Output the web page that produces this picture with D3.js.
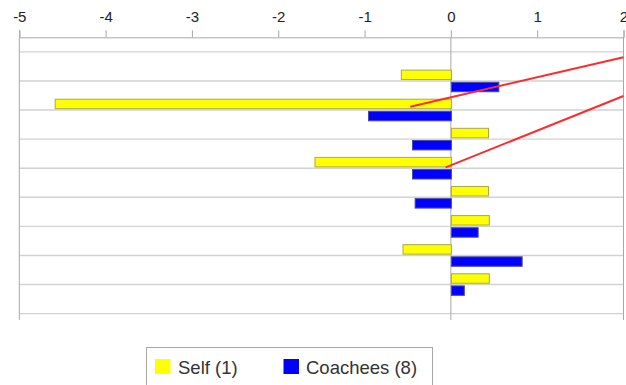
<!DOCTYPE html>
<html>
<head>
<meta charset="utf-8">
<script src="https://cdn.jsdelivr.net/npm/d3@7/dist/d3.min.js"></script>
<style>
  html, body { margin: 0; padding: 0; background: #fff; }
  svg { display: block; }
</style>
</head>
<body>
<svg id="chart" width="626" height="385"></svg>
<script>
// ---- data ----
const categories = ["Item 1", "Item 2", "Item 3", "Item 4", "Item 5", "Item 6", "Item 7", "Item 8"];
const selfValues = [-0.58, -4.59, 0.43, -1.58, 0.43, 0.44, -0.56, 0.44];
const coacheeValues = [0.55, -0.96, -0.45, -0.45, -0.42, 0.31, 0.82, 0.15];
const seriesNames = ["Self (1)", "Coachees (8)"];
const xTicks = [-5, -4, -3, -2, -1, 0, 1, 2];
const xTickLabels = ["-5", "-4", "-3", "-2", "-1", "0", "1", "2"];
// annotation lines in data units: x value, category position (slot index)
const annotations = [
  { x1: -0.47, y1: 1.885, x2: 2.0, y2: 0.187 },
  { x1: -0.06, y1: 3.97, x2: 2.0, y2: 1.518 }
];

const colors = { self: "#ffff00", coachees: "#0000ff" };
const strokes = { self: "#a9a94a", coachees: "#4a4aa8" };

const svg = d3.select("#chart");

const x = d3.scaleLinear().domain([-5, 2]).range([19.3, 623.5]);

// slots: one empty slot above and below the categories
const slots = ["_top"].concat(categories, ["_bottom"]);
const y = d3.scaleBand().domain(slots).range([37.3, 328.2]).padding(0);
const yPos = d3.scaleLinear().domain([0, slots.length - 1])
  .range([y(slots[0]) + y.bandwidth() / 2, y(slots[slots.length - 1]) + y.bandwidth() / 2]);
const inner = d3.scaleBand().domain(["self", "coachees"]).range([-10.8, 10.8]).paddingInner(0.22);

const plotTop = 37.3, plotBottom = 320;

// horizontal gridlines at slot centres
svg.append("g").selectAll("line").data(slots).join("line")
  .attr("x1", x(-5)).attr("x2", x(2))
  .attr("y1", d => y(d) + y.bandwidth() / 2)
  .attr("y2", d => y(d) + y.bandwidth() / 2)
  .attr("stroke", "#d2d2d2").attr("stroke-width", 1.4);

// vertical lines at -5, 0 and right edge
svg.append("g").selectAll("line").data([-5, 0, 2]).join("line")
  .attr("x1", d => x(d)).attr("x2", d => x(d))
  .attr("y1", plotTop).attr("y2", plotBottom)
  .attr("stroke", "#a8a8a8").attr("stroke-width", 1);

// top axis
const axis = d3.axisTop(x).tickValues(xTicks)
  .tickFormat((d, i) => xTickLabels[i])
  .tickSizeOuter(0).tickSize(7).tickPadding(8);
const gAxis = svg.append("g").attr("transform", `translate(0,${plotTop})`).call(axis);
gAxis.select(".domain").attr("stroke", "#a8a8a8");
gAxis.selectAll(".tick line").attr("stroke", "#a8a8a8");
gAxis.selectAll(".tick text")
  .attr("fill", "#222")
  .style("font-family", "'Liberation Sans', Arial, sans-serif")
  .style("font-size", "15px");

// bars
const rows = categories.map((c, i) => ({ cat: c, self: selfValues[i], coachees: coacheeValues[i] }));
const gBars = svg.append("g");
["self", "coachees"].forEach(key => {
  gBars.append("g").selectAll("rect").data(rows).join("rect")
    .attr("x", d => x(Math.min(0, d[key])) + 0.5)
    .attr("width", d => Math.abs(x(d[key]) - x(0)))
    .attr("y", d => y(d.cat) + y.bandwidth() / 2 + inner(key))
    .attr("height", inner.bandwidth())
    .attr("fill", colors[key])
    .attr("stroke", strokes[key]).attr("stroke-width", 1);
});

// red annotation lines
svg.append("g").selectAll("line").data(annotations).join("line")
  .attr("x1", d => x(d.x1)).attr("y1", d => yPos(d.y1))
  .attr("x2", d => x(d.x2)).attr("y2", d => yPos(d.y2))
  .attr("stroke", "#ff2a2a").attr("stroke-width", 2);

// legend
const legend = svg.append("g");
legend.append("rect")
  .attr("x", 146.5).attr("y", 347.5).attr("width", 286).attr("height", 60)
  .attr("fill", "#fff").attr("stroke", "#a8a8a8").attr("stroke-width", 1);
const legendItems = [
  { key: "self", name: seriesNames[0], sx: 155, tx: 178 },
  { key: "coachees", name: seriesNames[1], sx: 283.5, tx: 306 }
];
legend.selectAll("g.item").data(legendItems).join("g").attr("class", "item")
  .each(function (d) {
    const g = d3.select(this);
    g.append("rect").attr("x", d.sx).attr("y", 359).attr("width", 15.5).attr("height", 15)
      .attr("fill", colors[d.key]);
    g.append("text").attr("x", d.tx).attr("y", 373.5)
      .attr("fill", "#333")
      .style("font-family", "'Liberation Sans', Arial, sans-serif")
      .style("font-size", "18.5px")
      .text(d.name);
  });
</script>
</body>
</html>
